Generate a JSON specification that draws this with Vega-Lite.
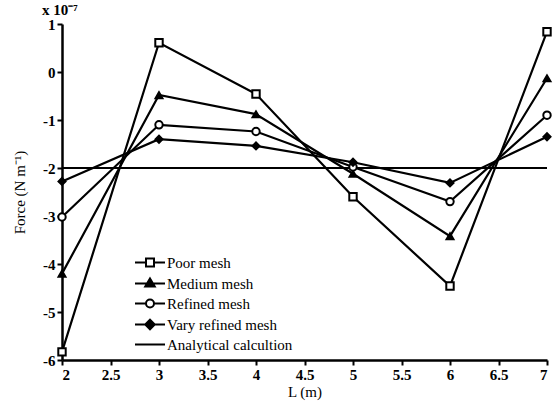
{
  "$schema": "https://vega.github.io/schema/vega-lite/v6.json",
  "width": 485,
  "height": 336,
  "autosize": {"type": "none"},
  "padding": {"left": 62, "top": 24, "right": 10, "bottom": 46},
  "background": "white",
  "title": {"text": "x 10⁻⁷", "anchor": "start", "frame": "group", "dx": -20, "offset": -1, "font": "Liberation Serif", "fontSize": 15, "fontWeight": "bold", "color": "black"},
  "config": {
    "view": {"stroke": null},
    "font": "Liberation Serif",
    "axis": {"domainColor": "black", "domainWidth": 2.5, "tickColor": "black", "tickWidth": 2, "tickSize": 5, "grid": false,
             "labelFont": "Liberation Serif", "labelFontSize": 15, "labelFontWeight": "bold", "labelColor": "black",
             "titleFont": "Liberation Serif", "titleFontSize": 15, "titleFontWeight": "normal", "titleColor": "black"},
    "legend": {"symbolStrokeWidth": 2}
  },
  "data": {"values": [
    {"series": "Poor mesh", "L": 2, "F": -5.83},
    {"series": "Poor mesh", "L": 3, "F": 0.61},
    {"series": "Poor mesh", "L": 4, "F": -0.46},
    {"series": "Poor mesh", "L": 5, "F": -2.6},
    {"series": "Poor mesh", "L": 6, "F": -4.46},
    {"series": "Poor mesh", "L": 7, "F": 0.84},
    {"series": "Medium mesh", "L": 2, "F": -4.2},
    {"series": "Medium mesh", "L": 3, "F": -0.48},
    {"series": "Medium mesh", "L": 4, "F": -0.88},
    {"series": "Medium mesh", "L": 5, "F": -2.12},
    {"series": "Medium mesh", "L": 6, "F": -3.42},
    {"series": "Medium mesh", "L": 7, "F": -0.13},
    {"series": "Refined mesh", "L": 2, "F": -3.02},
    {"series": "Refined mesh", "L": 3, "F": -1.1},
    {"series": "Refined mesh", "L": 4, "F": -1.24},
    {"series": "Refined mesh", "L": 5, "F": -1.98},
    {"series": "Refined mesh", "L": 6, "F": -2.7},
    {"series": "Refined mesh", "L": 7, "F": -0.9},
    {"series": "Vary refined mesh", "L": 2, "F": -2.28},
    {"series": "Vary refined mesh", "L": 3, "F": -1.4},
    {"series": "Vary refined mesh", "L": 4, "F": -1.54},
    {"series": "Vary refined mesh", "L": 5, "F": -1.88},
    {"series": "Vary refined mesh", "L": 6, "F": -2.31},
    {"series": "Vary refined mesh", "L": 7, "F": -1.35},
    {"series": "Analytical calcultion", "L": 2, "F": -2},
    {"series": "Analytical calcultion", "L": 7, "F": -2}
  ]},
  "encoding": {
    "x": {"field": "L", "type": "quantitative", "scale": {"domain": [2, 7], "nice": false, "zero": false},
          "axis": {"title": "L (m)", "values": [2, 2.5, 3, 3.5, 4, 4.5, 5, 5.5, 6, 6.5, 7], "labelExpr": "datum.value", "labelPadding": 2, "titlePadding": 2}},
    "y": {"field": "F", "type": "quantitative", "scale": {"domain": [-6, 1], "nice": false, "zero": false},
          "axis": {"title": "Force (N m⁻¹)", "values": [-6, -5, -4, -3, -2, -1, 0, 1], "labelExpr": "datum.value", "labelPadding": 2, "titlePadding": 15}}
  },
  "layer": [
    {
      "mark": {"type": "line", "color": "black", "strokeWidth": 2.2},
      "encoding": {"detail": {"field": "series"}}
    },
    {
      "transform": [{"filter": "datum.series === 'Poor mesh'"}],
      "mark": {"type": "point", "shape": "square", "fill": "white", "fillOpacity": 1, "stroke": "black", "strokeWidth": 2, "size": 55, "opacity": 1}
    },
    {
      "transform": [{"filter": "datum.series === 'Medium mesh'"}],
      "mark": {"type": "point", "shape": "triangle-up", "fill": "black", "fillOpacity": 1, "stroke": "black", "strokeWidth": 1.5, "size": 60, "opacity": 1}
    },
    {
      "transform": [{"filter": "datum.series === 'Refined mesh'"}],
      "mark": {"type": "point", "shape": "circle", "fill": "white", "fillOpacity": 1, "stroke": "black", "strokeWidth": 2, "size": 55, "opacity": 1}
    },
    {
      "transform": [{"filter": "datum.series === 'Vary refined mesh'"}],
      "mark": {"type": "point", "shape": "diamond", "fill": "black", "fillOpacity": 1, "stroke": "black", "strokeWidth": 1.5, "size": 60, "opacity": 1}
    },
    {
      "mark": {"type": "point", "filled": true, "strokeWidth": 2, "size": 100, "opacity": 0},
      "encoding": {
        "shape": {"field": "series", "type": "nominal",
                  "scale": {"domain": ["Poor mesh", "Medium mesh", "Refined mesh", "Vary refined mesh", "Analytical calcultion"],
                            "range": ["M-3,0H-0.8M0.8,0H3M-0.8,-0.8H0.8V0.8H-0.8Z",
                                      "M-3,0H3M0,-1L0.95,0.6H-0.95Z",
                                      "M-3,0H-0.8M0.8,0H3M-0.8,0A0.8,0.8 0 1,0 0.8,0A0.8,0.8 0 1,0 -0.8,0Z",
                                      "M-3,0H3M0,-0.95L0.95,0L0,0.95L-0.95,0Z",
                                      "M-3,0H3"]},
                  "legend": {"title": null, "orient": "none", "legendX": 80.5, "legendY": 231, "padding": 0,
                             "symbolSize": 100, "symbolStrokeWidth": 2, "symbolOpacity": 1,
                             "labelFont": "Liberation Serif", "labelFontSize": 15, "labelColor": "black", "labelOffset": 9.5,
                             "rowPadding": 3, "labelLimit": 300}},
        "fill": {"field": "series", "type": "nominal",
                 "scale": {"domain": ["Poor mesh", "Medium mesh", "Refined mesh", "Vary refined mesh", "Analytical calcultion"],
                           "range": ["white", "black", "white", "black", "white"]},
                 "legend": {"title": null, "orient": "none", "legendX": 80.5, "legendY": 231, "padding": 0,
                             "symbolSize": 100, "symbolStrokeWidth": 2, "symbolOpacity": 1,
                             "labelFont": "Liberation Serif", "labelFontSize": 15, "labelColor": "black", "labelOffset": 9.5,
                             "rowPadding": 3, "labelLimit": 300}},
        "stroke": {"field": "series", "type": "nominal",
                 "scale": {"domain": ["Poor mesh", "Medium mesh", "Refined mesh", "Vary refined mesh", "Analytical calcultion"],
                           "range": ["black", "black", "black", "black", "black"]},
                 "legend": {"title": null, "orient": "none", "legendX": 80.5, "legendY": 231, "padding": 0,
                             "symbolSize": 100, "symbolStrokeWidth": 2, "symbolOpacity": 1,
                             "labelFont": "Liberation Serif", "labelFontSize": 15, "labelColor": "black", "labelOffset": 9.5,
                             "rowPadding": 3, "labelLimit": 300}}
      }
    }
  ]
}
